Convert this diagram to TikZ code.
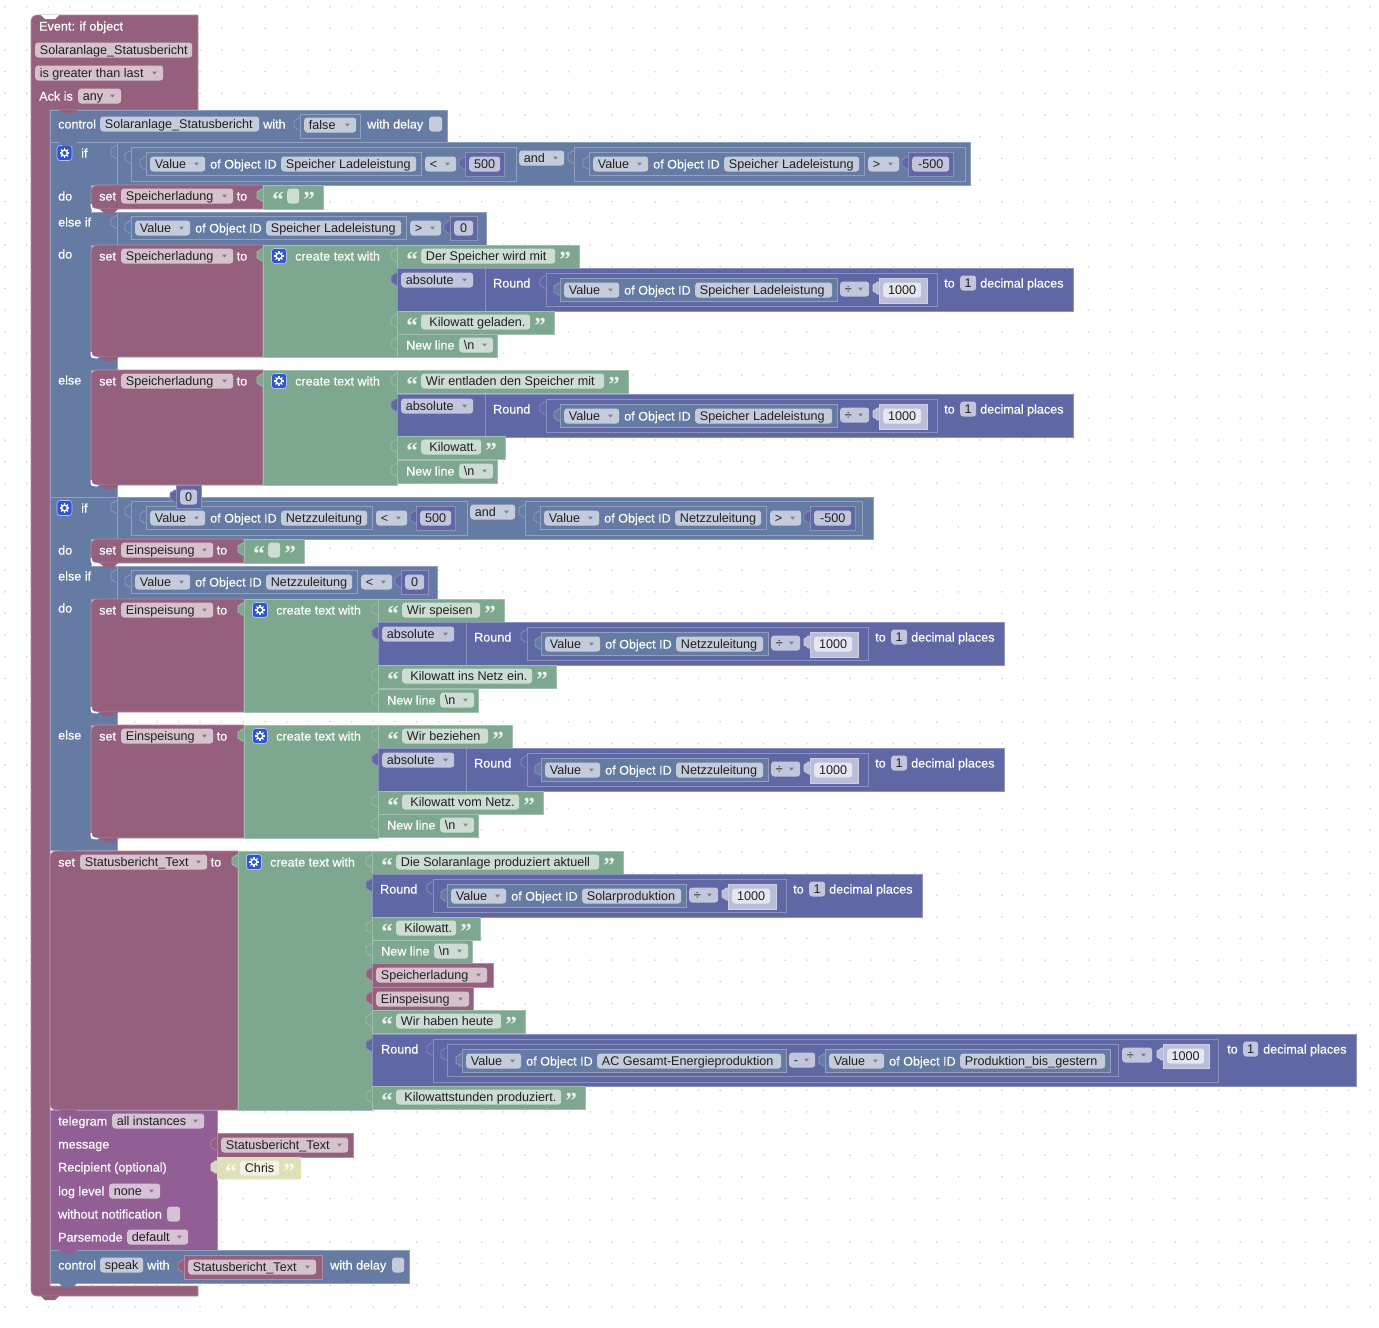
\documentclass[tikz,border=0pt]{standalone}
\usepackage{fontspec}
\setmainfont{Liberation Sans}
\newfontfamily\quotefont{Liberation Serif}
\newfontfamily\labelfont[FakeBold=0.45]{Liberation Sans}
\usepackage{xcolor}
\usetikzlibrary{patterns}
\definecolor{evtcol}{HTML}{95607E}
\definecolor{ctlcol}{HTML}{667BA3}
\definecolor{mathcol}{HTML}{5F67A4}
\definecolor{numcol}{HTML}{BBBEDA}
\definecolor{txtcol}{HTML}{7DA78F}
\definecolor{tlgcol}{HTML}{915F94}
\definecolor{dotcol}{HTML}{D8D8D8}
\definecolor{iconcol}{HTML}{2F55D4}
\definecolor{offcol}{HTML}{D6D7C2}
\definecolor{hatchcol}{HTML}{E8E8AE}
\tikzset{
  x=1pt, y=-1pt,
  blockbox/.style={line width=0.7pt},
  lbl/.style={anchor=base west, inner sep=0pt, white, font=\labelfont\fontsize{12.6}{15}\selectfont},
  fldbox/.style={anchor=west, rounded corners=3, fill=white, fill opacity=.62, text opacity=1, text=black!88, inner xsep=4pt, inner ysep=1.5pt, text height=10.5pt, text depth=1.5pt, font=\fontsize{12.6}{15}\selectfont},
  quo/.style={anchor=base, inner sep=0pt, white, text opacity=.85, font=\quotefont\bfseries\fontsize{23}{23}\selectfont}
}
\newcounter{nodeno}
\newcommand{\blk}[5]{\filldraw[blockbox, fill=#1, draw=#1!72!white] ({#2},{#3}) rectangle ({#4},{#5});}
\newcommand{\setblk}[5]{\filldraw[blockbox, fill=#1, draw=#1!72!white] ({#4},{#3}) [rounded corners=6] -- ({#2},{#3}) -- ({#2},{#5}) [sharp corners] -- ({#4},{#5}) -- cycle;}
\newcommand{\setcorner}[2]{\draw[white, line width=1.6pt] ({#1+.3},{#2-5}) .. controls ({#1+.3},{#2+.3}) .. ({#1+7},{#2+.7});}
\newcommand{\tabb}[3]{\filldraw[blockbox, fill=#1, draw=#1!72!white, rounded corners=1] ({#2},{#3-7}) -- ({#2-3},{#3-7}) -- ({#2-3},{#3-5}) -- ({#2-6},{#3-5}) -- ({#2-6},{#3+3}) -- ({#2-3},{#3+3}) -- ({#2-3},{#3+5}) -- ({#2},{#3+5});}
\newcommand{\nub}[3]{\fill[#1] ({#2-9},{#3}) -- ({#2-5},{#3+4}) -- ({#2+5},{#3+4}) -- ({#2+9},{#3}) -- cycle;}
\newcommand{\lab}[3]{\stepcounter{nodeno}\node[lbl] (n\arabic{nodeno}) at ({#1},{#2+4.6}) {#3};}
\newcommand{\fld}[4]{\stepcounter{nodeno}\pgfmathsetlengthmacro\fldw{(#2)-(#1)}\pgfmathsetlengthmacro\fldt{(#2)-(#1)-8}\node[fldbox, minimum width=\fldw] (n\arabic{nodeno}) at ({#1},{#3}) {\makebox[\fldt][l]{\hspace*{.7pt}#4}};}
\newcommand{\fldc}[4]{\stepcounter{nodeno}\pgfmathsetlengthmacro\fldw{(#2)-(#1)}\pgfmathsetlengthmacro\fldt{(#2)-(#1)-8}\node[fldbox, minimum width=\fldw] (n\arabic{nodeno}) at ({#1},{#3}) {\makebox[\fldt][c]{#4}};}
\newcommand{\dd}[4]{\fld{#1}{#2}{#3}{#4}\fill[black, opacity=.38] ({#2-11},{#3-1.5}) -- ({#2-6},{#3-1.5}) -- ({#2-8.5},{#3+1.5}) -- cycle;}
\newcommand{\gearicon}[2]{\filldraw[fill=iconcol, draw=white!65!iconcol, line width=.6pt, rounded corners=3] ({#1-7.5},{#2-7.5}) rectangle ({#1+7.5},{#2+7.5});
	\foreach \a in {0,45,90,135} \draw[white, line width=1.1pt] ({#1+4.8*cos(\a)},{#2+4.8*sin(\a)}) -- ({#1-4.8*cos(\a)},{#2-4.8*sin(\a)});
	\fill[white] ({#1},{#2}) circle (3.7);
	\fill[iconcol] ({#1},{#2}) circle (2);}
\newcommand{\objval}[4]{\blk{ctlcol}{#1}{#2-11.5}{#3}{#2+11.5}\tabb{ctlcol}{#1}{#2}\dd{#1+4}{#1+59}{#2}{Value}\lab{#1+64}{#2}{of Object ID}\fld{#1+135}{#3-5}{#2}{#4}}
\newcommand{\opnum}[5]{\dd{#1+4}{#1+35}{#2}{#3}\blk{mathcol}{#1+44}{#2-12}{#1+44+#5}{#2+12}\tabb{mathcol}{#1+44}{#2}\fldc{#1+48}{#1+40+#5}{#2}{#4}}
\newcommand{\roundpart}[5]{\blk{mathcol}{#1}{#3}{#5+236}{#3+43}
	\draw[mathcol!72!white] ({#2},{#3}) -- ({#2},{#3+43});
	\lab{#2+8}{#3+15}{Round}
	\blk{mathcol}{#2+61}{#3+5}{#5+100}{#3+38}\tabb{mathcol}{#2+61}{#3+15}
	\objval{#2+75}{#3+22}{#5}{#4}
	\dd{#5+3}{#5+32}{#3+21}{÷}
	\blk{numcol}{#5+42}{#3+10}{#5+90}{#3+35}\tabb{numcol}{#5+42}{#3+21}
	\fldc{#5+46}{#5+84}{#3+22}{1000}
	\lab{#5+107}{#3+15}{to}
	\fldc{#5+123}{#5+139}{#3+15}{1}
	\lab{#5+143}{#3+15}{decimal places}}
\newcommand{\absround}[4]{\roundpart{#1}{#1+88}{#2}{#3}{#4}\tabb{mathcol}{#1}{#2+12}\dd{#1+4}{#1+76}{#2+12}{absolute}}
\newcommand{\qitem}[4]{\blk{txtcol}{#1}{#2}{#3}{#2+23}\tabb{txtcol}{#1}{#2+11}
	\stepcounter{nodeno}\node[quo] (n\arabic{nodeno}) at ({#1+15},{#2+22}) {“};
	\fld{#1+24}{#3-24}{#2+11}{#4}
	\stepcounter{nodeno}\node[quo] (n\arabic{nodeno}) at ({#3-14},{#2+22}) {”};}
\newcommand{\nlitem}[2]{\blk{txtcol}{#1}{#2}{#1+100}{#2+23}\tabb{txtcol}{#1}{#2+11}\lab{#1+9}{#2+11}{New line}\dd{#1+62}{#1+96}{#2+11}{\textbackslash n}}
\newcommand{\varitem}[5]{\blk{evtcol}{#1}{#2}{#3}{#2+24}\tabb{evtcol}{#1}{#2+12}\dd{#1+4}{#4}{#2+12}{#5}}
\newcommand{\settext}[6]{\setblk{evtcol}{#1}{#2}{#6}{#3}\blk{txtcol}{#6}{#2}{#6+134}{#3}
	\lab{#1+8}{#2+11}{set}\dd{#1+30}{#5}{#2+11}{#4}\lab{#5+3.5}{#2+11}{to}\tabb{txtcol}{#6}{#2+11}
	\gearicon{#6+16}{#2+11}\lab{#6+32}{#2+11}{create text with}\nub{evtcol}{#1+18}{#3}}
\newcommand{\setempty}[5]{\setblk{evtcol}{#1}{#2}{#5}{#2+24}\blk{txtcol}{#5}{#2}{#5+60}{#2+24}
	\lab{#1+8}{#2+11}{set}\dd{#1+30}{#4}{#2+11}{#3}\lab{#4+3.5}{#2+11}{to}\tabb{txtcol}{#5}{#2+11}
	\stepcounter{nodeno}\node[quo] (n\arabic{nodeno}) at ({#5+15},{#2+22}) {“};
	\fld{#5+24}{#5+36}{#2+11}{}
	\stepcounter{nodeno}\node[quo] (n\arabic{nodeno}) at ({#5+46},{#2+22}) {”};
	\setcorner{#1}{#2+24}\nub{evtcol}{#1+18}{#2+24}}
\newcommand{\ifblk}[9]{\filldraw[blockbox, fill=ctlcol, draw=ctlcol!72!white] (50,{#1}) -- ({#2},{#1}) -- ({#2},{#3}) -- (91,{#3}) -- (91,{#4}) -- ({#5},{#4}) -- ({#5},{#6}) -- (91,{#6}) -- (91,{#7}) -- (117,{#7}) -- (117,{#8}) -- (91,{#8}) -- (91,{#9}) -- (117,{#9}) -- (117,{#9+12}) -- (50,{#9+12}) -- cycle;
	\draw[ctlcol!72!white] (117,{#1}) -- (117,{#3}) (117,{#4}) -- (117,{#6});
	\tabb{ctlcol}{117}{#1+11}\tabb{ctlcol}{117}{#4+11}
	\gearicon{64.5}{#1+11}\lab{81}{#1+11}{if}\lab{58}{#3+11}{do}\lab{58}{#4+10}{else if}\lab{58}{#6+9}{do}\lab{58}{#8+10}{else}
	\nub{ctlcol}{68}{#9+12}}

\begin{document}
\begin{tikzpicture}
	\useasboundingbox (0,0) rectangle (1379,1328);
	\fill[white] (0,0) rectangle (1379,1328);
	% grid of the workspace
	\foreach \i in {0,...,63}
		\foreach \j in {0,...,61}
			\fill[dotcol] ({5+21.67*\i},{6.67+21.67*\j}) circle (1);

	% event block
	\filldraw[blockbox, fill=evtcol, draw=evtcol!72!white] (198,15) -- (198,110) -- (50,110) -- (50,1286) -- (198,1286) -- (198,1296) [rounded corners=6] -- (31,1296) -- (31,15) [sharp corners] -- cycle;
	\fill[white] (41,15) -- (45,19) -- (55,19) -- (59,15) -- cycle;
	\nub{evtcol}{50}{1296}
	\lab{39}{26}{Event: if object}
	\fld{35}{192}{50}{Solaranlage\_Statusbericht}
	\dd{35}{163}{73}{is greater than last}
	\lab{39}{96}{Ack is}
	\dd{78}{121}{96}{any}

	% control block
	\blk{ctlcol}{50}{110}{447}{142}
	\nub{evtcol}{68}{110}
	\lab{58}{124}{control}
	\fld{100}{259}{124}{Solaranlage\_Statusbericht}
	\lab{263}{124}{with}
	\blk{ctlcol}{300}{114}{360}{138}
	\tabb{ctlcol}{300}{125}
	\dd{304}{356}{125}{false}
	\lab{367}{124}{with delay}
	\fld{429}{442}{124}{}

	% first if
	\ifblk{142}{970}{185}{212}{486}{245}{357}{370}{485}
	\nub{ctlcol}{68}{142}
	\blk{ctlcol}{131}{147}{516}{181}
	\tabb{ctlcol}{131}{158}
	\objval{146}{164}{421}{Speicher Ladeleistung}
	\opnum{421}{164}{<}{500}{39}
	\dd{519}{564}{158}{and}
	\blk{ctlcol}{574}{147}{965}{181}
	\tabb{ctlcol}{574}{158}
	\objval{589}{164}{864}{Speicher Ladeleistung}
	\opnum{864}{164}{>}{-500}{45}
	\setempty{91}{185}{Speicherladung}{233}{263}
	\objval{131}{228}{406}{Speicher Ladeleistung}
	\opnum{406}{228}{>}{0}{27}

	\settext{91}{245}{357}{Speicherladung}{233}{263}
	\setcorner{91}{357}
	\nub{evtcol}{109}{357}
	\qitem{397}{245}{579}{Der Speicher wird mit}
	\absround{397}{268}{Speicher Ladeleistung}{837}
	\qitem{397}{311}{554}{\ Kilowatt geladen.}
	\nlitem{397}{334}

	\settext{91}{370}{485}{Speicherladung}{233}{263}
	\setcorner{91}{485}
	\nub{evtcol}{109}{485}
	\qitem{397}{370}{628}{Wir entladen den Speicher mit}
	\absround{397}{394}{Speicher Ladeleistung}{837}
	\qitem{397}{436}{505}{\ Kilowatt.}
	\nlitem{397}{460}

	% second if
	\ifblk{497}{873}{539}{566}{437}{599}{712}{725}{838}
	\blk{ctlcol}{131}{501}{467}{535}
	\tabb{ctlcol}{131}{512}
	\objval{146}{518}{372}{Netzzuleitung}
	\opnum{372}{518}{<}{500}{39}
	\dd{470}{515}{512}{and}
	\blk{ctlcol}{525}{501}{862}{535}
	\tabb{ctlcol}{525}{512}
	\objval{540}{518}{766}{Netzzuleitung}
	\opnum{766}{518}{>}{-500}{45}
	\blk{mathcol}{176}{485}{201}{508}
	\tabb{mathcol}{176}{497}
	\fldc{180}{197}{497}{0}
	\setempty{91}{539}{Einspeisung}{213}{244}
	\objval{131}{582}{357}{Netzzuleitung}
	\opnum{357}{582}{<}{0}{27}

	\settext{91}{599}{712}{Einspeisung}{213}{244}
	\setcorner{91}{712}
	\nub{evtcol}{109}{712}
	\qitem{378}{599}{504}{Wir speisen}
	\absround{378}{622}{Netzzuleitung}{768}
	\qitem{378}{665}{556}{\ Kilowatt ins Netz ein.}
	\nlitem{378}{689}

	\settext{91}{725}{838}{Einspeisung}{213}{244}
	\setcorner{91}{838}
	\nub{evtcol}{109}{838}
	\qitem{378}{725}{512}{Wir beziehen}
	\absround{378}{748}{Netzzuleitung}{768}
	\qitem{378}{791}{543}{\ Kilowatt vom Netz.}
	\nlitem{378}{814}

	% status text
	\settext{50}{851}{1110}{Statusbericht\_Text}{207}{238}
	\qitem{372}{851}{623}{Die Solaranlage produziert aktuell}
	\roundpart{372}{372}{874}{Solarproduktion}{686}
	\tabb{mathcol}{372}{886}
	\qitem{372}{917}{480}{\ Kilowatt.}
	\nlitem{372}{940}
	\varitem{372}{963}{493}{487}{Speicherladung}
	\varitem{372}{987}{473}{469}{Einspeisung}
	\qitem{372}{1010}{525}{Wir haben heute}
	\blk{mathcol}{372}{1034}{1356}{1086}
	\tabb{mathcol}{372}{1046}
	\lab{381}{1049}{Round}
	\blk{mathcol}{433}{1039}{1218}{1082}
	\tabb{mathcol}{433}{1050}
	\blk{mathcol}{447}{1044}{1118}{1076}
	\tabb{mathcol}{447}{1055}
	\objval{462}{1061}{786}{AC Gesamt-Energieproduktion}
	\dd{789}{815}{1060}{-}
	\objval{825}{1061}{1110}{Produktion\_bis\_gestern}
	\dd{1122}{1152}{1055}{÷}
	\blk{numcol}{1163}{1044}{1209}{1068}
	\tabb{numcol}{1163}{1055}
	\fldc{1167}{1204}{1056}{1000}
	\lab{1227}{1049}{to}
	\fldc{1243}{1258}{1049}{1}
	\lab{1263}{1049}{decimal places}
	\qitem{372}{1086}{585}{\ Kilowattstunden produziert.}

	% telegram
	\blk{tlgcol}{50}{1110}{217}{1250}
	\nub{evtcol}{68}{1110}
	\lab{58}{1121}{telegram}
	\dd{112}{204}{1121}{all instances}
	\lab{58}{1144}{message}
	\varitem{217}{1133}{353}{348}{Statusbericht\_Text}
	\lab{58}{1167}{Recipient (optional)}
	\fill[offcol] (217,1157) rectangle (301,1179);
	\fill[pattern=crosshatch, pattern color=hatchcol] (217,1157) rectangle (301,1179);
	\tabb{offcol}{217}{1168}
	\stepcounter{nodeno}\node[quo] (n\arabic{nodeno}) at (231,1179) {“};
	\fld{240}{279}{1168}{Chris}
	\stepcounter{nodeno}\node[quo] (n\arabic{nodeno}) at (289,1179) {”};
	\lab{58}{1191}{log level}
	\dd{109}{160}{1191}{none}
	\lab{58}{1214}{without notification}
	\fld{167}{180}{1214}{}
	\lab{58}{1237}{Parsemode}
	\dd{127}{188}{1237}{default}

	% speak
	\blk{ctlcol}{50}{1250}{409}{1283}
	\nub{tlgcol}{68}{1250}
	\nub{ctlcol}{68}{1283}
	\lab{58}{1265}{control}
	\fld{100}{143}{1265}{speak}
	\lab{147}{1265}{with}
	\varitem{184}{1255}{322}{316}{Statusbericht\_Text}
	\lab{330}{1265}{with delay}
	\fld{392}{404}{1265}{}
\end{tikzpicture}
\end{document}
